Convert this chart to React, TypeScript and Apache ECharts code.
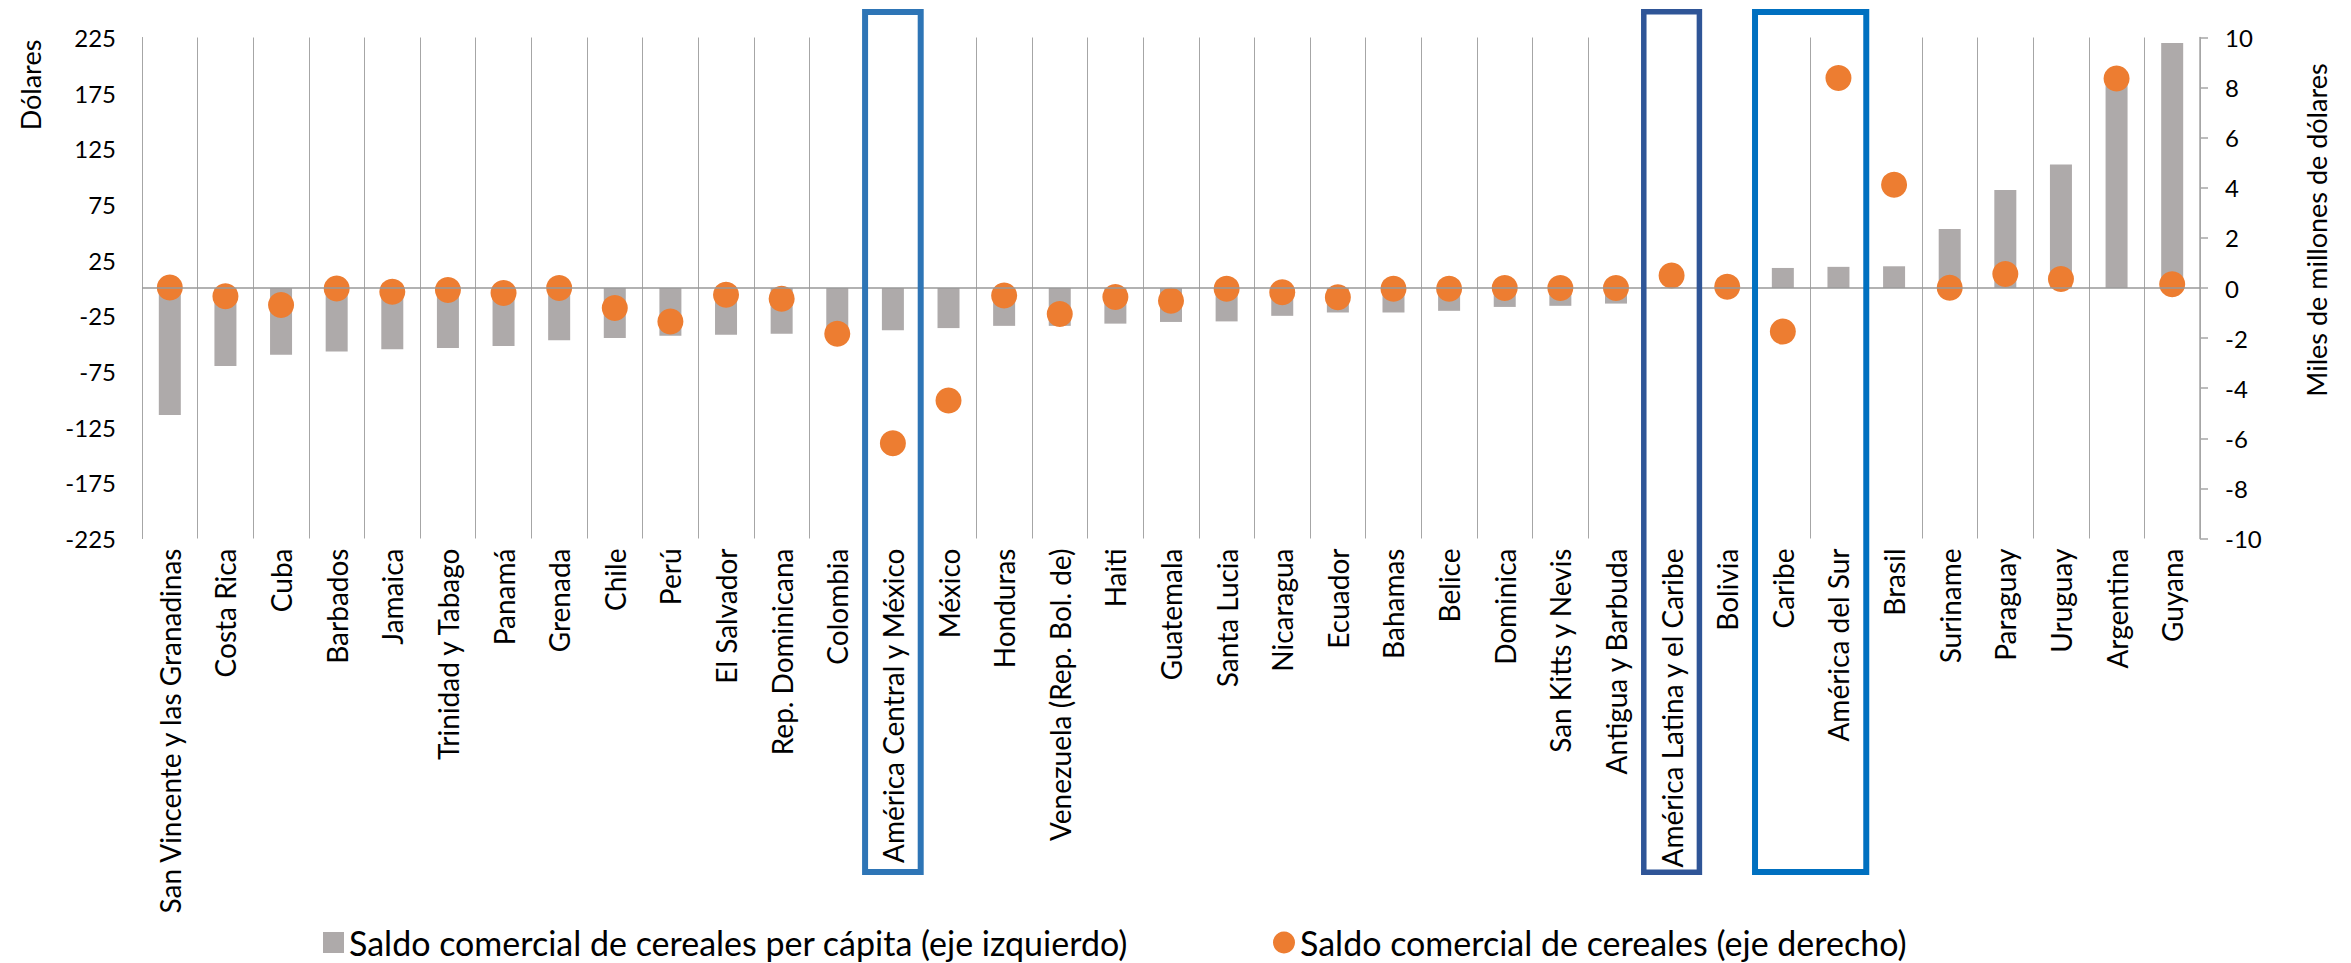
import { useEffect, useRef } from 'react';
import * as echarts from 'echarts';

const categories = [
  'San Vincente y las Granadinas', 'Costa Rica', 'Cuba', 'Barbados', 'Jamaica',
  'Trinidad y Tabago', 'Panamá', 'Grenada', 'Chile', 'Perú', 'El Salvador',
  'Rep. Dominicana', 'Colombia', 'América Central y México', 'México', 'Honduras',
  'Venezuela (Rep. Bol. de)', 'Haiti', 'Guatemala', 'Santa Lucia', 'Nicaragua',
  'Ecuador', 'Bahamas', 'Belice', 'Dominica', 'San Kitts y Nevis', 'Antigua y Barbuda',
  'América Latina y el Caribe', 'Bolivia', 'Caribe', 'América del Sur', 'Brasil',
  'Suriname', 'Paraguay', 'Uruguay', 'Argentina', 'Guyana',
];

// Saldo comercial de cereales per cápita (dólares, eje izquierdo)
const perCapita = [
  -114, -70, -60, -57, -55, -54, -52, -47, -45, -43, -42, -41, -39, -38, -36, -34,
  -34, -32, -30.5, -30, -25, -22, -22, -20.5, -17, -16, -14, 0.5, 0, 18, 19, 19.5,
  53, 88, 111, 188, 220,
];

// Saldo comercial de cereales (miles de millones de dólares, eje derecho)
const totalBalance = [
  0.02, -0.33, -0.68, -0.02, -0.15, -0.08, -0.2, 0.0, -0.8, -1.34, -0.27, -0.43,
  -1.83, -6.2, -4.49, -0.3, -1.04, -0.36, -0.51, -0.03, -0.17, -0.37, -0.03, -0.03,
  0.0, 0.0, 0.0, 0.5, 0.05, -1.74, 8.38, 4.12, 0.01, 0.56, 0.36, 8.36, 0.15,
];

const leftTickLabels = [-225, -175, -125, -75, -25, 25, 75, 125, 175, 225];

const seriesNames = [
  'Saldo comercial de cereales per cápita (eje izquierdo)',
  'Saldo comercial de cereales (eje derecho)',
];

// highlighted boxes: [first index, last index, colour, line width]
const boxes: [number, number, string, number][] = [
  [13, 13, '#2e75b6', 6],
  [27, 27, '#2f5597', 5.5],
  [29, 30, '#0070c0', 6],
];

const FONT = 'Lato';

export default function App() {
  const ref = useRef<HTMLDivElement>(null);

  useEffect(() => {
    if (!ref.current) return;
    const chart = echarts.init(ref.current, null, { renderer: 'svg' });
    const legendText = { fontFamily: FONT, fontSize: 34, lineHeight: 35, color: '#000' };
    chart.setOption({
      animation: false,
      textStyle: { fontFamily: FONT, color: '#000' },
      grid: { left: 142, right: 151, top: 37.5, bottom: 424.5, containLabel: false },
      legend: [
        {
          data: [{ name: seriesNames[0], icon: 'rect' }],
          left: 323, top: 925, itemWidth: 21, itemHeight: 21, itemGap: 10, padding: 0,
          textStyle: legendText,
        },
        {
          data: [{ name: seriesNames[1], icon: 'circle' }],
          left: 1273, top: 925, itemWidth: 22, itemHeight: 22, itemGap: 10, padding: 0,
          textStyle: legendText,
        },
      ],
      xAxis: {
        type: 'category',
        data: categories,
        boundaryGap: true,
        axisLine: { show: false, onZero: false },
        axisTick: { show: false },
        splitLine: { show: true, interval: 0, lineStyle: { color: '#a6a6a6', width: 1 } },
        axisLabel: {
          interval: 0, rotate: 90, margin: 10, fontSize: 28, fontFamily: FONT, color: '#000',
        },
      },
      yAxis: [
        {
          type: 'value', min: -225, max: 225, interval: 25,
          axisLine: { show: true, lineStyle: { color: '#a6a6a6', width: 1 } },
          axisTick: { show: false },
          splitLine: { show: false },
          axisLabel: {
            margin: 26, fontSize: 24, fontFamily: FONT, color: '#000',
            formatter: (v: number) => (leftTickLabels.includes(v) ? String(v) : ''),
          },
        },
        {
          type: 'value', min: -10, max: 10, interval: 2, position: 'right',
          axisLine: { show: true, lineStyle: { color: '#a6a6a6', width: 1.5 } },
          axisTick: { show: true, inside: false, length: 8, lineStyle: { color: '#a6a6a6', width: 1.5 } },
          splitLine: { show: false },
          axisLabel: { margin: 25, fontSize: 24, fontFamily: FONT, color: '#000' },
        },
      ],
      series: [
        {
          name: seriesNames[0],
          type: 'bar',
          yAxisIndex: 0,
          data: perCapita,
          barWidth: 22,
          itemStyle: { color: '#aeaaaa' },
          markLine: {
            silent: true,
            symbol: ['none', 'none'],
            label: { show: false },
            lineStyle: { color: '#999999', width: 1.5, type: 'solid' },
            data: [{ yAxis: 0 }],
          },
          z: 2,
        },
        {
          name: seriesNames[1],
          type: 'scatter',
          yAxisIndex: 1,
          data: totalBalance,
          symbolSize: 26,
          itemStyle: { color: '#ed7d31', opacity: 1 },
          z: 3,
        },
      ],
      graphic: [
        {
          type: 'text', x: 30, y: 85, rotation: Math.PI / 2,
          style: { text: 'Dólares', fontFamily: FONT, fontSize: 27, fill: '#000', align: 'center', verticalAlign: 'middle' },
        },
        {
          type: 'text', x: 2316, y: 230, rotation: Math.PI / 2,
          style: { text: 'Miles de millones de dólares', fontFamily: FONT, fontSize: 27, fill: '#000', align: 'center', verticalAlign: 'middle' },
        },
      ],
    });

    const cx = (i: number) => chart.convertToPixel({ xAxisIndex: 0 }, i) as number;
    const bw = cx(1) - cx(0);
    const boxEls = boxes.map(([a, b, color, lw], k) => {
      const x0 = cx(a) - bw / 2;
      const x1 = cx(b) + bw / 2;
      return {
        type: 'rect',
        id: 'box' + k,
        z: 10,
        shape: { x: x0, y: 9 + lw / 2, width: x1 - x0, height: 875 - 9 - lw },
        style: { fill: 'none', stroke: color, lineWidth: lw },
      };
    });
    chart.setOption({ graphic: boxEls });

    return () => chart.dispose();
  }, []);

  return (
    <div
      ref={ref}
      style={{ position: 'fixed', left: 0, top: 0, width: 2351, height: 963, background: '#fff' }}
    />
  );
}
